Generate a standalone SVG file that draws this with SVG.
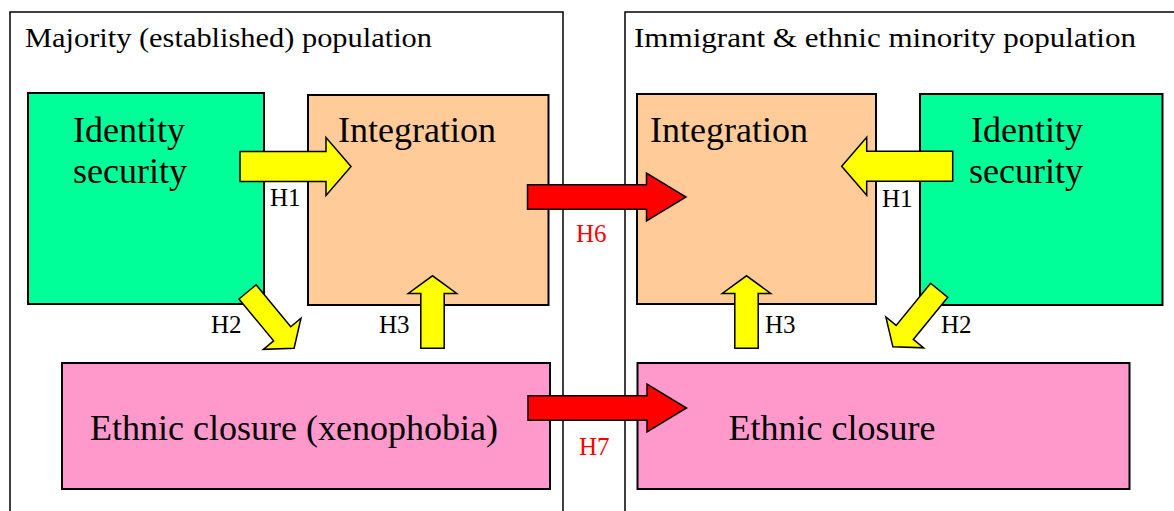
<svg xmlns="http://www.w3.org/2000/svg" width="1174" height="511" viewBox="0 0 1174 511">
<style>
.panel{fill:#FFFFFF;stroke:#000;stroke-width:1.5}
.box{stroke:#000;stroke-width:2}
.green{fill:#00FF99}
.orange{fill:#FFCC99}
.pink{fill:#FF99CC}
.yarrow{fill:#FFFF00;stroke:#000;stroke-width:1.5;stroke-linejoin:miter}
.rarrow{fill:#FF0000;stroke:#000;stroke-width:1.5;stroke-linejoin:miter}
text{font-family:"Liberation Serif","Times New Roman",serif;fill:#000}
.title{font-size:28px}
.big{font-size:36px}
.lab{font-size:25px}
.red{fill:#FF0000}
</style>
<defs>
<polygon id="h1shape" points="0,-15 86,-15 86,-29 111,0 86,29 86,15 0,15"/>
<polygon id="redshape" points="0,-12.2 119,-12.2 119,-24 158.5,0 119,24 119,12.2 0,12.2"/>
<polygon id="h3shape" points="0,-11.7 54.9,-11.7 54.9,-24.2 72.5,0 54.9,24.2 54.9,11.7 0,11.7"/>
<polygon id="h2shape" points="0,-11.1 54.4,-11.1 54.4,-24.4 73.1,0 54.4,24.4 54.4,11.1 0,11.1"/>
</defs>
<g id="panel-majority">
<rect class="panel" x="10" y="12" width="553" height="520"/>
<text class="title" x="25" y="47" textLength="407" lengthAdjust="spacingAndGlyphs">Majority (established) population</text>
</g>
<g id="panel-minority">
<rect class="panel" x="625" y="12" width="570" height="520"/>
<text class="title" x="634" y="47" textLength="502" lengthAdjust="spacingAndGlyphs">Immigrant &amp; ethnic minority population</text>
</g>
<g id="maj-identity">
<rect class="box green" x="28" y="93" width="236" height="211"/>
<text class="big" x="73" y="142">Identity</text>
<text class="big" x="73" y="183">security</text>
</g>
<g id="maj-integration">
<rect class="box orange" x="308" y="95" width="240.5" height="210"/>
<text class="big" x="338" y="142">Integration</text>
</g>
<g id="maj-closure">
<rect class="box pink" x="62" y="363" width="488" height="126"/>
<text class="big" x="90" y="440">Ethnic closure (xenophobia)</text>
</g>
<g id="min-integration">
<rect class="box orange" x="637" y="94" width="239" height="210"/>
<text class="big" x="650" y="142">Integration</text>
</g>
<g id="min-identity">
<rect class="box green" x="920" y="94" width="242.5" height="211"/>
<text class="big" x="971" y="142">Identity</text>
<text class="big" x="969" y="183">security</text>
</g>
<g id="min-closure">
<rect class="box pink" x="637.5" y="363" width="492" height="126"/>
<text class="big" x="728.5" y="440">Ethnic closure</text>
</g>
<g id="connectors">
<use href="#h1shape" class="yarrow" transform="translate(240,166.5)"/>
<text class="lab" x="270" y="206">H1</text>
<use href="#h1shape" class="yarrow" transform="translate(952.7,166.3) rotate(180)"/>
<text class="lab" x="882" y="207">H1</text>
<use href="#h2shape" class="yarrow" transform="translate(247.5,291.9) rotate(50.4)"/>
<text class="lab" x="211" y="333">H2</text>
<use href="#h2shape" class="yarrow" transform="translate(939.2,290.3) rotate(129.3)"/>
<text class="lab" x="941" y="333">H2</text>
<use href="#h3shape" class="yarrow" transform="translate(432.5,348.3) rotate(-90)"/>
<text class="lab" x="379" y="333">H3</text>
<use href="#h3shape" class="yarrow" transform="translate(746.5,348.3) rotate(-90)"/>
<text class="lab" x="765" y="333">H3</text>
<use href="#redshape" class="rarrow" transform="translate(527.5,197)"/>
<text class="lab red" x="576" y="242">H6</text>
<use href="#redshape" class="rarrow" transform="translate(528,408)"/>
<text class="lab red" x="579" y="455">H7</text>
</g>
</svg>
